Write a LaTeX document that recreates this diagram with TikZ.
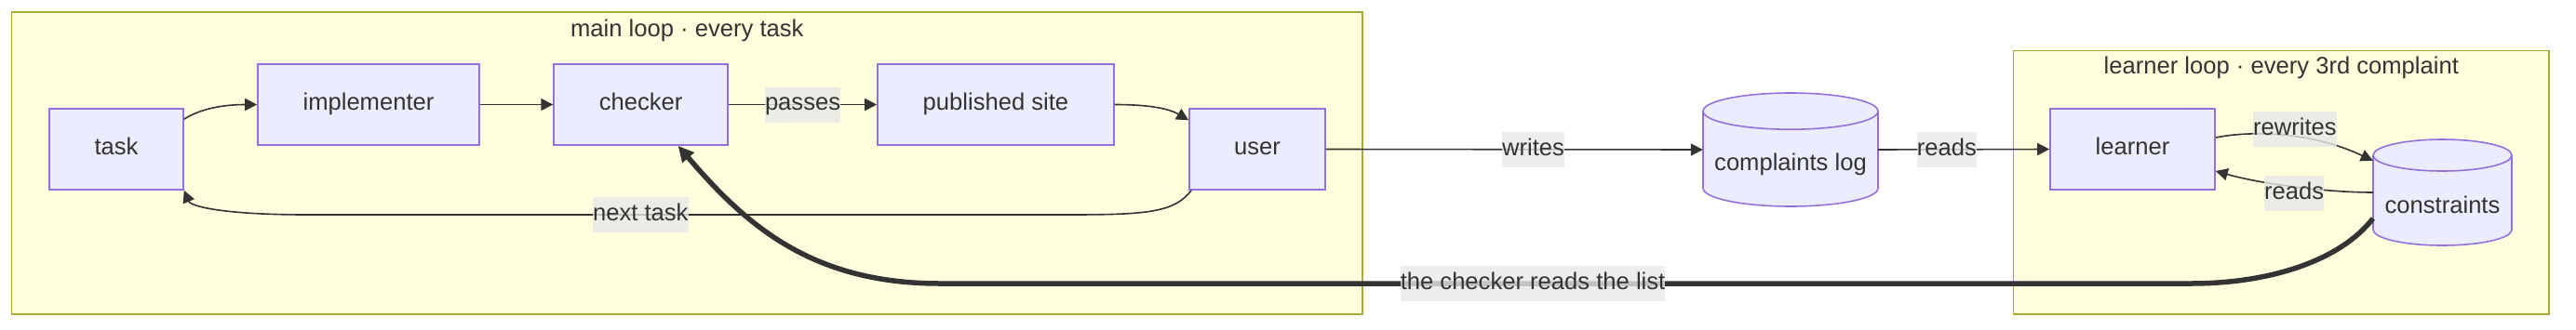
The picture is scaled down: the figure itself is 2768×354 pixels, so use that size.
\documentclass[tikz,border=0pt]{standalone}
\usepackage{fontspec}
\setmainfont{Liberation Sans}
\usetikzlibrary{arrows.meta}
\definecolor{nodefill}{HTML}{ECECFF}
\definecolor{nodeline}{HTML}{9370DB}
\definecolor{clfill}{HTML}{FFFFDE}
\definecolor{clline}{HTML}{AAAA33}
\definecolor{ink}{HTML}{333333}
\definecolor{lblfill}{HTML}{E8E8E8}
\begin{document}
\begin{tikzpicture}[x=1pt,y=-1pt,
  every node/.style={font=\fontsize{25.6}{30}\selectfont, text=ink, text height=18.4pt, text depth=5.6pt},
  box/.style={draw=nodeline, fill=nodefill, line width=1.6pt, minimum height=87pt, inner sep=0pt},
  cluster/.style={draw=clline, fill=clfill, line width=1.6pt, inner sep=0pt},
  edge/.style={draw=ink, line width=1.6pt, -{Triangle[length=13pt,width=13pt]}},
  thickedge/.style={draw=ink, line width=5.5pt, -{Triangle[length=17pt,width=16pt]}},
  lbl/.style={fill=lblfill, fill opacity=0.8, text opacity=1, inner xsep=0pt, inner ysep=0pt, minimum height=38pt},
  title/.style={inner sep=0pt},
  cyl/.style={draw=nodeline, fill=nodefill, line width=1.6pt},
  anchorbox/.style={draw=none, inner sep=0pt},
]
\useasboundingbox (0,0) rectangle (2768,354);
% clusters
\node[cluster, minimum width=1451.4pt, minimum height=325pt] (mainloop) at (738.3,175.2) {};
\node[title] (maintitle) at (738.3,33) {main loop · every task};
\node[cluster, minimum width=575.4pt, minimum height=283.7pt] (learnloop) at (2451.3,196.15) {};
\node[title] (learntitle) at (2451.3,73.5) {learner loop · every 3rd complaint};
% boxes
\node[box, minimum width=144pt] (task) at (125,160.5) {task};
\node[box, minimum width=238pt] (impl) at (396,112.5) {implementer};
\node[box, minimum width=187pt] (checker) at (688.6,112.5) {checker};
\node[box, minimum width=254pt] (pub) at (1070,112.5) {published site};
\node[box, minimum width=146pt] (user) at (1351,160.5) {user};
\node[box, minimum width=177pt] (learner) at (2291.5,160.5) {learner};
% complaints log cylinder
\path[cyl] (1830,119.6) -- (1830,202.4) arc[start angle=180,end angle=360,x radius=94pt,y radius=19.6pt]
  -- (2018,119.6) arc[start angle=0,end angle=180,x radius=94pt,y radius=19.6pt] -- cycle;
\draw[cyl, fill=none] (1830,119.6) arc[start angle=180,end angle=360,x radius=94pt,y radius=19.6pt];
\node[anchorbox, minimum width=188pt, minimum height=122pt] (clog) at (1924,161) {};
\node[title] (clogtext) at (1924,177) {complaints log};
% constraints cylinder
\path[cyl] (2550,167) -- (2550,247) arc[start angle=180,end angle=360,x radius=74.5pt,y radius=17pt]
  -- (2699,167) arc[start angle=0,end angle=180,x radius=74.5pt,y radius=17pt] -- cycle;
\draw[cyl, fill=none] (2550,167) arc[start angle=180,end angle=360,x radius=74.5pt,y radius=17pt];
\node[anchorbox, minimum width=149pt, minimum height=114pt] (cons) at (2624.5,207) {};
\node[title] (constext) at (2624.5,223) {constraints};
% edges
\draw[edge] ([yshift=-12pt]task.north east) .. controls (215,117) and (240,112.5) .. (impl.west);
\draw[edge] (impl.east) -- (checker.west);
\draw[edge] (checker.east) -- node[lbl]{passes} (pub.west);
\draw[edge] (pub.east) .. controls (1240,112.5) and (1258,118) .. ([yshift=-13pt]user.north west);
\draw[edge] ([xshift=3pt]user.south west) .. controls (1262,228) and (1235,231) .. (1150,231)
  -- node[lbl, pos=0.563]{next task} (330,231) .. controls (240,231) and (205,222) .. (task.south east);
\draw[edge] (user.east) -- node[lbl, pos=0.55]{writes} (clog.west);
\draw[edge] (clog.east) -- node[lbl, pos=0.4]{reads} (learner.west);
\draw[edge] ([yshift=12.5pt]learner.east) .. controls (2415,141) and (2480,140) .. node[lbl, yshift=6pt, xshift=14pt]{rewrites} ([yshift=-23pt]cons.north west);
\draw[edge] (cons.west) .. controls (2500,207) and (2430,198) .. node[lbl, yshift=-7pt]{reads} ([yshift=-23.5pt]learner.east);
\draw[thickedge] ([yshift=-28pt]cons.west) .. controls (2515,280) and (2440,305) .. (2354,305)
  -- node[lbl, pos=0.526]{the checker reads the list} (1010,305) .. controls (870,305) and (800,240) .. ([xshift=40pt]checker.south);
\end{tikzpicture}
\end{document}
